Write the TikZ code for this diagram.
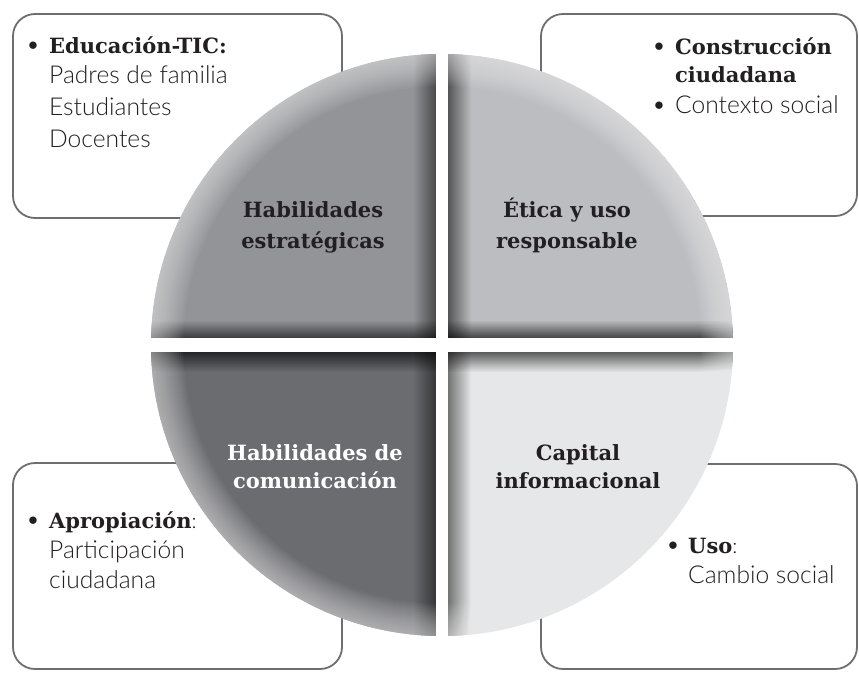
\documentclass[tikz,border=0pt]{standalone}
\usepackage{fontspec}
\usetikzlibrary{fadings}
\newfontfamily\hdf{DejaVu Serif}
\newfontfamily\ltf{Lato Light}
\definecolor{boxline}{HTML}{6D6E71}
\definecolor{txt}{HTML}{231F20}
\definecolor{qtl}{HTML}{939498}
\definecolor{qtr}{HTML}{BCBDC0}
\definecolor{qbl}{HTML}{6B6C70}
\definecolor{qbr}{HTML}{E6E7E8}
\tikzfading[name=fadeR, left color=transparent!100, right color=transparent!0]
\tikzfading[name=fadeL, left color=transparent!0, right color=transparent!100]
\tikzfading[name=fadeD, top color=transparent!100, bottom color=transparent!0]
\tikzfading[name=fadeU, top color=transparent!0, bottom color=transparent!100]
\newcommand\myrim{\foreach \i in {1,...,16}{\fill[white, fill opacity=0.04, even odd rule] (442,345) circle (291) (442,345) circle ({291-2*\i});}}
\begin{document}
\begin{tikzpicture}[x=1pt,y=-1pt,
  box/.style={draw=boxline, line width=1.8pt, rounded corners=22pt},
  hd/.style={font=\hdf\bfseries\fontsize{21}{24}\selectfont, text=txt, inner sep=0pt},
  lt/.style={font=\ltf\fontsize{24.6}{28}\selectfont, text=txt, inner sep=0pt}]
\useasboundingbox (0,0) rectangle (859,672);
\fill[white] (0,0) rectangle (859,672);
% boxes
\draw[box] (13,14) rectangle (342,218);
\draw[box] (541,14) rectangle (857,216);
\draw[box] (13,463) rectangle (342,669);
\draw[box] (541,464) rectangle (857,669);
% top-left quadrant
\begin{scope}
\clip (442,345) circle (291);
\clip (140,40) rectangle (436,338);
\fill[qtl] (140,40) rectangle (436,338);
\fill[black, fill opacity=0.5, path fading=fadeR] (413,40) rectangle (436,338);
\fill[black, fill opacity=0.6, path fading=fadeD] (140,320) rectangle (436,338);
\myrim
\end{scope}
% top-right quadrant
\begin{scope}
\clip (442,345) circle (291);
\clip (448,40) rectangle (745,338);
\fill[qtr] (448,40) rectangle (745,338);
\fill[black, fill opacity=0.55, path fading=fadeL] (448,40) rectangle (471,338);
\fill[black, fill opacity=0.65, path fading=fadeD] (448,320) rectangle (745,338);
\myrim
\end{scope}
% bottom-left quadrant
\begin{scope}
\clip (442,345) circle (291);
\clip (140,352) rectangle (436,650);
\fill[qbl] (140,352) rectangle (436,650);
\fill[black, fill opacity=0.5, path fading=fadeR] (413,352) rectangle (436,650);
\fill[black, fill opacity=0.65, path fading=fadeU] (140,352) rectangle (436,372);
\myrim
\end{scope}
% bottom-right quadrant
\begin{scope}
\clip (442,345) circle (291);
\clip (448,352) rectangle (745,650);
\fill[qbr] (448,352) rectangle (745,650);
\fill[black, fill opacity=0.5, path fading=fadeL] (448,352) rectangle (471,650);
\fill[black, fill opacity=0.6, path fading=fadeU] (448,352) rectangle (745,372);
\myrim
\end{scope}
% circle labels
\node[hd, anchor=base] (tl1) at (313,217) {Habilidades};
\node[hd, anchor=base] (tl2) at (313,248) {estratégicas};
\node[hd, anchor=base] (tr1) at (567,217) {Ética y uso};
\node[hd, anchor=base] (tr2) at (567,248) {responsable};
\node[hd, anchor=base, text=white] (bl1) at (315,460) {Habilidades de};
\node[hd, anchor=base, text=white] (bl2) at (315,488) {comunicación};
\node[hd, anchor=base] (br1) at (578,460) {Capital};
\node[hd, anchor=base] (br2) at (578,488) {informacional};
% top-left box text
\node[hd, anchor=base] (b1) at (33,53) {•};
\node[hd, anchor=base west] (t1) at (49,53) {Educación-TIC:};
\node[lt, anchor=base west] (t2) at (49,83) {Padres de familia};
\node[lt, anchor=base west] (t3) at (49,115) {Estudiantes};
\node[lt, anchor=base west] (t4) at (49,147) {Docentes};
% top-right box text
\node[hd, anchor=base] (b2) at (659,54) {•};
\node[hd, anchor=base west] (r1) at (675,54) {Construcción};
\node[hd, anchor=base west] (r2) at (675,82) {ciudadana};
\node[hd, anchor=base] (b3) at (659,113) {•};
\node[lt, anchor=base west] (r3) at (675,113) {Contexto social};
% bottom-left box text
\node[hd, anchor=base] (b4) at (33,528) {•};
\node[hd, anchor=base west] (l1) at (49,528) {Apropiación{\ltf\mdseries:}};
\node[lt, anchor=base west] (l2) at (49,558) {Participación};
\node[lt, anchor=base west] (l3) at (49,588) {ciudadana};
% bottom-right box text
\node[hd, anchor=base] (b5) at (673,553) {•};
\node[hd, anchor=base west] (u1) at (688,553) {Uso{\ltf\mdseries:}};
\node[lt, anchor=base west] (u2) at (688,583) {Cambio social};
\end{tikzpicture}
\end{document}
